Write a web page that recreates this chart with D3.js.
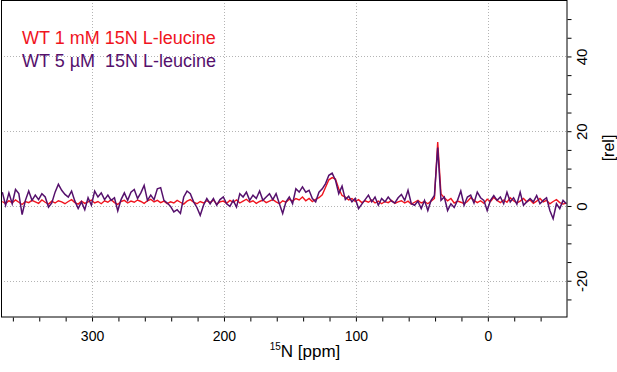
<!DOCTYPE html>
<html lang="en">
<head>
  <meta charset="UTF-8">
  <title>15N spectrum</title>
  <style>
    body { margin: 0; background: #fff; }
    text { font-family: "Liberation Sans", Arial, sans-serif; }
  </style>
</head>
<body>
  <div id="chart"></div>

  <script src="https://d3js.org/d3.v7.min.js"></script>

  <script>
    // chemical shift axis (ppm), one point every 2.5 ppm from 368 down to -59.5
    var ppm = d3.range(368, -60, -2.5);

    // WT 1 mM 15N L-leucine (red)
    var wt1mM = [
      1.2, 0.6, 1.4, 0.8, 1.6, 1.0, 0.4, 1.2, 0.9, 1.5,
      1.1, 0.7, 1.6, 1.0, 0.5, 1.3, 0.8, 1.4, 1.1, 0.6,
      1.2, 1.7, 0.9, 0.5, 1.3, 0.7, 1.1, 1.6, 0.8, 1.2,
      0.6, 1.4, 1.0, 1.7, 0.9, 0.4, 1.2, 1.5, 0.8, 1.3,
      1.0, 1.6, 1.2, 0.7, 1.4, 1.8, 1.1, 1.5, 0.9, 1.3,
      0.6, 1.1, 0.8, 1.5, 1.0, 0.5, 1.3, 1.7, 1.0, 0.6,
      1.2, 0.8, 1.4, 0.9, 1.6, 0.5, 1.1, 1.3, 0.7, 1.5,
      1.0, 1.6, 0.8, 1.3, 1.8, 1.0, 1.4, 0.7, 1.2, 1.6,
      0.9, 1.3, 1.7, 1.1, 0.6, 1.4, 1.0, 1.8, 1.3, 2.0,
      1.6, 2.4, 1.4, 2.0, 1.2, 1.8, 2.2, 3.0, 5.0, 7.0,
      7.6, 7.2, 4.6, 2.8, 2.4, 1.6, 2.0, 1.2, 1.7, 0.9,
      1.4, 1.0, 1.6, 0.8, 1.3, 0.6, 1.2, 0.9, 1.5, 0.7,
      1.1, 1.4, 0.8, 1.3, 0.5, 1.0, 1.5, 0.8, 1.2, 0.6,
      1.3, 2.0, 17.1, 3.2, 2.2, 1.4, 2.0, 0.8, 1.3, 1.0,
      0.6, 1.2, 2.2, 1.5, 0.9, 1.4, 0.7, 1.8, 1.2, 2.3,
      1.5, 0.9, 1.6, 1.0, 2.2, 1.4, 0.8, 1.3, 2.0, 1.1,
      1.6, 0.7, 1.3, 2.0, 1.1, 1.5, 0.6, 1.2, 1.7, 0.9,
      0.5, 0.8
    ];

    // WT 5 uM 15N L-leucine (purple)
    var wt5uM = [
      3.7, 0.2, 3.5, 0.6, 4.4, 3.3, -2.3, 1.5, 4.0, 1.5,
      2.9, 1.7, 3.3, 2.4, -0.3, 0.8, 3.7, 5.8, 4.2, 3.1,
      2.4, 4.0, 1.3, -0.7, 1.1, -1.0, 2.2, 0.2, 4.0, 2.4,
      3.5, 1.7, 2.9, 1.5, 2.2, -1.3, 1.7, 3.5, 1.5, 3.7,
      4.4, 2.0, 3.5, 5.5, 1.5, 2.9, 1.7, 4.6, 4.9, 1.5,
      0.8, -0.1, -1.6, -1.0, -2.0, 2.4, 4.0, 3.3, 1.1, -0.4,
      -2.5, 0.2, 2.0, 0.6, 2.0, 0.2, 1.7, 2.4, 0.6, -0.1,
      1.5, -0.3, 3.3, 2.4, 3.7, 1.5, 2.9, 2.0, 4.0, 1.5,
      2.4, 3.3, 1.7, 3.3, 0.6, -2.0, 1.1, 2.4, 0.6, 4.6,
      3.7, 5.1, 3.7, 4.2, 2.0, 1.1, 3.7, 4.6, 6.0, 8.2,
      8.8, 6.9, 3.3, 5.3, 1.7, 2.6, 1.1, 2.0, -0.7, 0.5,
      1.7, 2.9, 1.1, 2.4, 0.2, 2.0, 1.1, 2.4, 1.3, 0.8,
      2.2, 3.1, 1.5, 4.2, 0.6, 0.2, 1.3, -0.7, 1.5, -1.2,
      1.5, 2.8, 15.6, 1.5, 2.4, -1.2, 0.6, -0.4, 1.5, 4.0,
      0.2, 2.4, 2.9, 0.8, 3.7, 2.2, 1.5, -1.2, 1.5, 2.8,
      1.5, 2.4, 0.6, 3.7, 1.1, 2.2, 0.5, 3.7, 0.2, 1.1,
      2.0, 1.1, 2.8, 0.6, 1.5, 2.2, -1.2, -3.4, 0.6, -0.7,
      1.5, 0.6
    ];

    var xTicks = [300, 200, 100, 0];
    var yTicks = [40, 20, 0, -20];

    var red = "#f0141e", purple = "#55106c";

    var W = 617, H = 372;
    var plot = {left: 1, right: 567, top: 0, bottom: 317};

    var svg = d3.select("#chart")
      .append("svg")
      .attr("width", W)
      .attr("height", H);

    // reversed ppm axis, like NMR
    var x = d3.scaleLinear().domain([369, -60]).range([plot.left, plot.right]);
    var y = d3.scaleLinear().domain([-29.7, 55.1]).range([plot.bottom, plot.top]);

    // dotted grid
    svg.append("g")
      .selectAll("line")
      .data(xTicks)
      .enter().append("line")
      .attr("x1", function(d) { return Math.round(x(d)) + 0.5; })
      .attr("x2", function(d) { return Math.round(x(d)) + 0.5; })
      .attr("y1", plot.top)
      .attr("y2", plot.bottom)
      .attr("stroke", "#b4b4b4")
      .attr("stroke-dasharray", "1,2");
    svg.append("g")
      .selectAll("line")
      .data(yTicks)
      .enter().append("line")
      .attr("x1", plot.left)
      .attr("x2", plot.right)
      .attr("y1", function(d) { return Math.round(y(d)) + 0.5; })
      .attr("y2", function(d) { return Math.round(y(d)) + 0.5; })
      .attr("stroke", "#b4b4b4")
      .attr("stroke-dasharray", "1,2");

    // spectra
    var line = function(vals) {
      return d3.line()
        .x(function(d, i) { return x(ppm[i]); })
        .y(function(d) { return y(d); })(vals);
    };
    svg.append("path")
      .attr("d", line(wt1mM))
      .attr("fill", "none")
      .attr("stroke", red)
      .attr("stroke-width", 1.4);
    svg.append("path")
      .attr("d", line(wt5uM))
      .attr("fill", "none")
      .attr("stroke", purple)
      .attr("stroke-width", 1.5);

    // frame
    svg.append("rect")
      .attr("x", plot.left + 0.5)
      .attr("y", plot.top + 0.5)
      .attr("width", plot.right - plot.left - 0.5)
      .attr("height", plot.bottom - plot.top - 0.5)
      .attr("fill", "none")
      .attr("stroke", "#000")
      .attr("stroke-width", 1);

    // bottom axis: minor ticks every 20 ppm, labels every 100
    var xAxis = svg.append("g")
      .attr("transform", "translate(0," + (plot.bottom + 0.5) + ")")
      .call(d3.axisBottom(x)
        .tickValues(d3.range(360, -60, -20))
        .tickSize(4)
        .tickFormat(function(d) { return xTicks.indexOf(d) >= 0 ? d : ""; }));
    xAxis.select(".domain").remove();
    xAxis.selectAll("text")
      .attr("font-size", 14)
      .attr("dy", "1.15em")
      .attr("font-family", "Liberation Sans, Arial, sans-serif");

    // right axis: ticks every 5, rotated labels
    var yAxis = svg.append("g")
      .attr("transform", "translate(" + (plot.right + 0.5) + ",0)")
      .call(d3.axisRight(y)
        .tickValues(d3.range(-25, 55, 5))
        .tickSize(4)
        .tickFormat(function(d) { return yTicks.indexOf(d) >= 0 ? d : ""; }));
    yAxis.select(".domain").remove();
    yAxis.selectAll(".tick text")
      .attr("font-size", 15)
      .attr("font-family", "Liberation Sans, Arial, sans-serif")
      .attr("x", null)
      .attr("dy", null)
      .attr("y", 0)
      .attr("text-anchor", "middle")
      .attr("dominant-baseline", "central")
      .attr("transform", "translate(14,0) rotate(-90)");

    // axis titles
    var xt = svg.append("text")
      .attr("x", 305)
      .attr("y", 357)
      .attr("text-anchor", "middle")
      .attr("font-size", 17)
      .attr("fill", "#000");
    xt.append("tspan").attr("font-size", 10).attr("dy", -7).text("15");
    xt.append("tspan").attr("dy", 7).text("N [ppm]");

    svg.append("text")
      .attr("transform", "translate(608,148) rotate(-90)")
      .attr("text-anchor", "middle")
      .attr("dominant-baseline", "central")
      .attr("font-size", 16)
      .text("[rel]");

    // legend
    svg.append("text")
      .attr("x", 22)
      .attr("y", 44)
      .attr("font-size", 18)
      .attr("fill", red)
      .text("WT 1 mM 15N L-leucine");
    svg.append("text")
      .attr("x", 22)
      .attr("y", 66.5)
      .attr("font-size", 18)
      .attr("fill", purple)
      .style("white-space", "pre")
      .text("WT 5 \u00b5M  15N L-leucine");
  </script>
</body>
</html>
